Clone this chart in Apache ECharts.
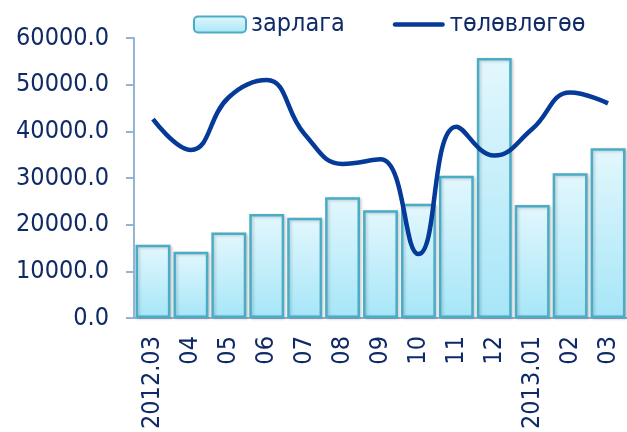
<!DOCTYPE html>
<html>
<head>
<meta charset="utf-8">
<script src="https://cdn.jsdelivr.net/npm/echarts@6/dist/echarts.min.js"></script>
<style>
  html, body { margin: 0; padding: 0; background: #fff; }
  #chart { width: 627px; height: 432px; }
</style>
</head>
<body>
<div id="chart"></div>
<script>
  var months = ['2012.03', '04', '05', '06', '07', '08', '09', '10', '11', '12', '2013.01', '02', '03'];
  var expense = [15700, 14200, 18300, 22300, 21500, 25900, 23100, 24500, 30500, 55700, 24200, 31000, 36400];
  var plan = [42600, 36000, 47300, 51000, 39400, 33000, 34000, 13700, 41000, 34800, 40500, 48300, 46000];

  var textColor = '#0f2a66';
  var fontName = 'DejaVu Sans Condensed';
  var axisColor = '#95b3d7';

  var myChart = echarts.init(document.getElementById('chart'));
  var option = {
    backgroundColor: '#fff',
    animation: false,
    grid: { left: 134, right: -6, top: 38, bottom: 113 },
    legend: {
      left: 188,
      top: 7,
      itemWidth: 52,
      itemHeight: 16,
      itemGap: 48,
      textStyle: { color: textColor, fontSize: 25, fontFamily: fontName },
      data: [
        { name: 'зарлага' },
        { name: 'төлөвлөгөө', icon: 'path://M2,0 L54,0 A2.5,2.5 0 0 1 54,5 L2,5 A2.5,2.5 0 0 1 2,0 Z' }
      ]
    },
    xAxis: {
      type: 'category',
      data: months,
      axisLine: { lineStyle: { color: axisColor, width: 2 } },
      axisTick: { length: 8, lineStyle: { color: axisColor, width: 2 } },
      axisLabel: {
        rotate: 90,
        margin: 18,
        interval: 0,
        color: textColor,
        fontSize: 25,
        fontFamily: fontName
      }
    },
    yAxis: {
      type: 'value',
      min: 0,
      max: 60000,
      interval: 10000,
      splitLine: { show: false },
      axisLine: { show: true, lineStyle: { color: axisColor, width: 2 } },
      axisTick: { show: true, length: 8, lineStyle: { color: axisColor, width: 2 } },
      axisLabel: {
        margin: 25,
        color: textColor,
        fontSize: 25,
        fontFamily: fontName,
        formatter: function (v) { return v.toFixed(1); }
      }
    },
    series: [
      {
        name: 'зарлага',
        type: 'bar',
        data: expense,
        barCategoryGap: '8%',
        itemStyle: {
          color: new echarts.graphic.LinearGradient(0, 0, 0, 1, [
            { offset: 0, color: '#e3f7fd' },
            { offset: 1, color: '#a6e6f8' }
          ]),
          borderColor: '#4bacc6',
          borderWidth: 2.5,
          shadowColor: 'rgba(0,0,0,0.18)',
          shadowBlur: 3,
          shadowOffsetX: 1.5,
          shadowOffsetY: 1
        }
      },
      {
        name: 'төлөвлөгөө',
        type: 'line',
        data: plan,
        smooth: 0.45,
        symbol: 'none',
        lineStyle: { color: '#063a98', width: 4.5 },
        itemStyle: { color: '#063a98' }
      }
    ]
  };
  myChart.setOption(option);
</script>
</body>
</html>
